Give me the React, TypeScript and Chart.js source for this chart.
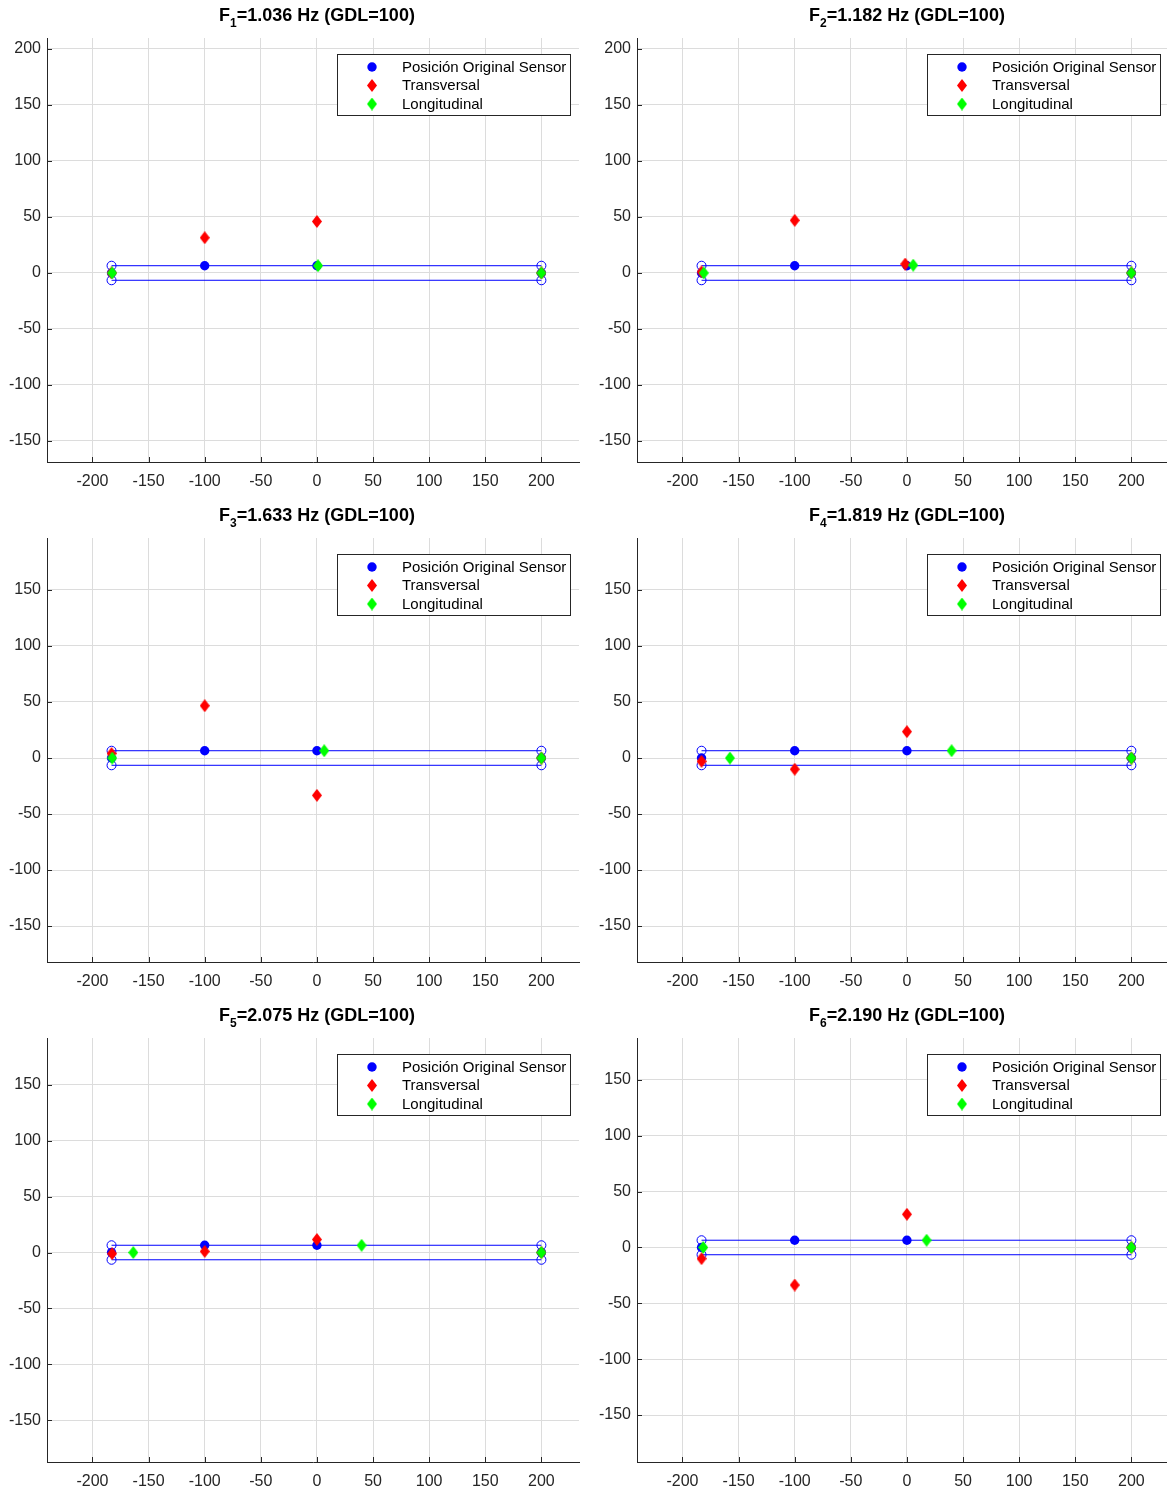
import React, { useEffect, useRef } from "react";
import { Chart, registerables } from "chart.js";

Chart.register(...registerables);

// ---------- data ----------
const modeFreqs = ["1.036", "1.182", "1.633", "1.819", "2.075", "2.190"];
const modeIdx = ["1", "2", "3", "4", "5", "6"];
const legendLabels = ["Posición Original Sensor", "Transversal", "Longitudinal"];

const xTicks = [-200, -150, -100, -50, 0, 50, 100, 150, 200];
const yTicksTop = [200, 150, 100, 50, 0, -50, -100, -150];
const yTicksRest = [150, 100, 50, 0, -50, -100, -150];
const xMin = -240.5;
const xMax = 233.5;
const yMins = [-168.75, -168.75, -182.1, -182.1, -187.5, -192];
const yMaxs = [209.8, 209.8, 196.4, 196.4, 192, 187.5];

const beamX = [-183, 200];
const beamTopY = [6.5, 6.5];
const beamBottomY = [-6.5, -6.5];

const sensorX = [-183, -100, 0, 200];
const sensorY = [0, 6.5, 6.5, 0];

const transversalX = [
  [-183, -100, 0, 200],
  [-183, -100, -1.5, 200],
  [-183, -100, 0, 200],
  [-183, -100, 0, 200],
  [-182.5, -100, 0, 200],
  [-183, -100, 0, 200],
];
const transversalY = [
  [0, 31.5, 46, 0],
  [1, 47, 8, 0],
  [4, 46.7, -33.3, 0],
  [-3, -10, 23.5, 0],
  [-1, 1, 11.6, 0],
  [-10, -33.6, 29.7, 0],
];
const longitudinalX = [
  [-182.5, 1, 200],
  [-181, 5.6, 200],
  [-182.4, 6.5, 200],
  [-157.7, 39.8, 200],
  [-163.6, 39.8, 200],
  [-181.5, 17.5, 200],
];
const longitudinalY = [
  [0, 6.5, 0],
  [0, 7, 0],
  [0, 6.5, 0],
  [0, 6.5, 0],
  [0, 6.5, 0],
  [0, 6.5, 0],
];

// ---------- styles ----------
const FONT = "'Liberation Sans', Arial, Helvetica, sans-serif";
const AXIS = "#262626";
const GRID = "#dcdcdc";
const BLUE = "#0000ff";
const RED = "#ff0000";
const GREEN = "#00ff00";
const PANEL_W = 590;
const PANEL_H = 500;

function makeDiamond(color: string) {
  const c = document.createElement("canvas");
  c.width = 10;
  c.height = 13;
  const g = c.getContext("2d")!;
  g.fillStyle = color;
  g.beginPath();
  g.moveTo(5, 0);
  g.lineTo(10, 6.5);
  g.lineTo(5, 13);
  g.lineTo(0, 6.5);
  g.closePath();
  g.fill();
  return c;
}

function pts(xs: number[], ys: number[]) {
  return xs.map((x, i) => ({ x, y: ys[i] }));
}

function Panel({ idx }: { idx: number }) {
  const ref = useRef<HTMLCanvasElement | null>(null);
  const col = idx % 2;
  const row = Math.floor(idx / 2);

  useEffect(() => {
    if (!ref.current) return;
    const redD = makeDiamond(RED);
    const greenD = makeDiamond(GREEN);
    const yTicks = idx < 2 ? yTicksTop : yTicksRest;

    const overlay = {
      id: "matlabExtras",
      beforeDatasetsDraw(chart: any) {
        const { ctx, chartArea, scales } = chart;
        ctx.save();
        ctx.strokeStyle = AXIS;
        ctx.lineWidth = 1;
        ctx.beginPath();
        for (const v of xTicks) {
          const px = Math.round(scales.x.getPixelForValue(v)) + 0.5;
          ctx.moveTo(px, chartArea.bottom);
          ctx.lineTo(px, chartArea.bottom - 5);
        }
        for (const v of yTicks) {
          const py = Math.round(scales.y.getPixelForValue(v)) + 0.5;
          ctx.moveTo(chartArea.left, py);
          ctx.lineTo(chartArea.left + 5, py);
        }
        ctx.stroke();
        ctx.restore();
      },
      afterDraw(chart: any) {
        const { ctx } = chart;
        ctx.save();
        const bx = 337.5, by = 54.5, bw = 233, bh = 61;
        ctx.fillStyle = "#ffffff";
        ctx.fillRect(bx, by, bw, bh);
        ctx.strokeStyle = AXIS;
        ctx.lineWidth = 1;
        ctx.strokeRect(bx, by, bw, bh);
        const rowsY = [67, 85.5, 104];
        ctx.fillStyle = BLUE;
        ctx.beginPath();
        ctx.arc(372, rowsY[0], 4.7, 0, Math.PI * 2);
        ctx.fill();
        ctx.drawImage(redD, 372 - 5, rowsY[1] - 6.5);
        ctx.drawImage(greenD, 372 - 5, rowsY[2] - 6.5);
        ctx.fillStyle = "#000000";
        ctx.font = `15px ${FONT}`;
        ctx.textBaseline = "middle";
        ctx.textAlign = "left";
        legendLabels.forEach((t, i) => ctx.fillText(t, 402, rowsY[i] + 0.5));
        ctx.restore();
      },
    };

    const tickFont = { family: FONT, size: 16 };
    const chart = new Chart(ref.current, {
      type: "scatter",
      data: {
        datasets: [
          {
            label: "beamTop",
            data: pts(beamX, beamTopY),
            showLine: true,
            borderColor: BLUE,
            borderWidth: 1,
            backgroundColor: "rgba(0,0,0,0)",
            pointStyle: "circle",
            pointRadius: 4.5,
            pointBorderWidth: 1,
            pointBorderColor: BLUE,
            pointBackgroundColor: "rgba(0,0,0,0)",
            order: 5,
          },
          {
            label: "beamBottom",
            data: pts(beamX, beamBottomY),
            showLine: true,
            borderColor: BLUE,
            borderWidth: 1,
            backgroundColor: "rgba(0,0,0,0)",
            pointStyle: "circle",
            pointRadius: 4.5,
            pointBorderWidth: 1,
            pointBorderColor: BLUE,
            pointBackgroundColor: "rgba(0,0,0,0)",
            order: 4,
          },
          {
            label: legendLabels[0],
            data: pts(sensorX, sensorY),
            showLine: false,
            pointStyle: "circle",
            pointRadius: 4.7,
            pointBorderWidth: 0,
            pointBackgroundColor: BLUE,
            borderColor: BLUE,
            backgroundColor: BLUE,
            order: 3,
          },
          {
            label: legendLabels[1],
            data: pts(transversalX[idx], transversalY[idx]),
            showLine: false,
            pointStyle: redD as any,
            pointRadius: 5,
            backgroundColor: RED,
            borderColor: RED,
            order: 2,
          },
          {
            label: legendLabels[2],
            data: pts(longitudinalX[idx], longitudinalY[idx]),
            showLine: false,
            pointStyle: greenD as any,
            pointRadius: 5,
            backgroundColor: GREEN,
            borderColor: GREEN,
            order: 1,
          },
        ],
      },
      options: {
        responsive: false,
        animation: false,
        events: [],
        layout: { padding: { top: 38, right: 11, left: 0, bottom: 0 } },
        plugins: {
          legend: { display: false },
          tooltip: { enabled: false },
          title: { display: false },
        },
        scales: {
          x: {
            type: "linear",
            min: xMin,
            max: xMax,
            afterFit: (s: any) => {
              s.height = 38;
            },
            afterBuildTicks: (s: any) => {
              s.ticks = xTicks.map((v) => ({ value: v }));
            },
            grid: { color: GRID, drawTicks: false, lineWidth: 1 },
            border: { color: AXIS, width: 1 },
            ticks: {
              font: tickFont,
              color: AXIS,
              padding: 10,
              maxRotation: 0,
              autoSkip: false,
            },
          },
          y: {
            type: "linear",
            min: yMins[idx],
            max: yMaxs[idx],
            afterFit: (s: any) => {
              s.width = 47;
            },
            afterBuildTicks: (s: any) => {
              s.ticks = yTicks.map((v) => ({ value: v }));
            },
            grid: { color: GRID, drawTicks: false, lineWidth: 1 },
            border: { color: AXIS, width: 1 },
            ticks: {
              font: tickFont,
              color: AXIS,
              padding: 6,
              autoSkip: false,
            },
          },
        },
      },
      plugins: [overlay],
    } as any);
    return () => chart.destroy();
  }, [idx]);

  return (
    <div
      style={{
        position: "absolute",
        left: col * PANEL_W,
        top: row * PANEL_H,
        width: PANEL_W,
        height: PANEL_H,
      }}
    >
      <canvas
        ref={ref}
        width={PANEL_W}
        height={PANEL_H}
        style={{ position: "absolute", left: 0, top: 0, width: PANEL_W, height: PANEL_H }}
      />
      <div
        style={{
          position: "absolute",
          left: 0,
          top: 4,
          width: 634,
          textAlign: "center",
          fontFamily: FONT,
          fontWeight: "bold",
          fontSize: 18,
          lineHeight: "22px",
          color: "#000",
          whiteSpace: "nowrap",
        }}
      >
        F<sub style={{ fontSize: 12, verticalAlign: "-6px", lineHeight: 0 }}>{modeIdx[idx]}</sub>
        ={modeFreqs[idx]} Hz (GDL=100)
      </div>
    </div>
  );
}

export default function App() {
  return (
    <div
      style={{
        position: "absolute",
        left: 0,
        top: 0,
        width: 1167,
        height: 1493,
        overflow: "hidden",
        background: "#ffffff",
      }}
    >
      {[0, 1, 2, 3, 4, 5].map((i) => (
        <Panel key={i} idx={i} />
      ))}
    </div>
  );
}
